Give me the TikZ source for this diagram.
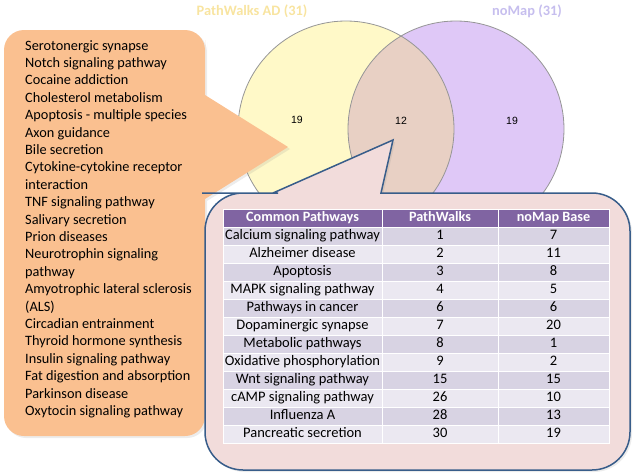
\documentclass[tikz,border=0pt]{standalone}
\usepackage{fontspec}
\setmainfont{Carlito}
\newfontfamily\vennfont{Liberation Sans}
\usepackage{tikz}
\usetikzlibrary{positioning, shadows}
\definecolor{peach}{RGB}{250,192,144}
\definecolor{blush}{RGB}{242,220,219}
\definecolor{calloutblue}{RGB}{56,93,138}
\definecolor{headpurple}{RGB}{128,100,162}
\definecolor{rowdark}{RGB}{216,211,227}
\definecolor{rowlight}{RGB}{235,232,241}
\definecolor{vennyellow}{RGB}{255,249,200}
\definecolor{vennpurple}{RGB}{223,200,247}
\definecolor{vennmix}{RGB}{232,208,196}
\definecolor{venngray}{RGB}{150,150,150}
\definecolor{titleyellow}{RGB}{248,228,160}
\definecolor{titlepurple}{RGB}{198,190,238}

\begin{document}
\begin{tikzpicture}[
    x=1pt, y=-1pt,
    venntitle/.style={font=\fontsize{14.4}{16}\selectfont\bfseries},
    vennnum/.style={font=\vennfont\fontsize{10.5}{12}\selectfont},
    listtext/.style={align=left, inner sep=0pt, font=\fontsize{14.3}{17.4}\selectfont},
    tabcell/.style={inner sep=0pt, outer sep=0pt, draw=white, line width=1pt, minimum height=18pt, text height=9.5pt, text depth=2.5pt, font=\fontsize{14.5}{16}\selectfont},
    colA/.style={tabcell, minimum width=159pt},
    colB/.style={tabcell, minimum width=116pt},
    colC/.style={tabcell, minimum width=111pt},
    headrow/.style={fill=headpurple, text=white, font=\fontsize{14.2}{16}\selectfont\bfseries},
    darkrow/.style={fill=rowdark},
    lightrow/.style={fill=rowlight},
    bubble/.style={drop shadow={shadow xshift=2pt, shadow yshift=-2pt, opacity=0.15}}
]
\useasboundingbox (0,0) rectangle (633,474);

% venn circles
\fill[vennyellow] (346,129) circle (108pt);
\fill[vennpurple] (456,129) circle (108pt);
\begin{scope}
  \clip (346,129) circle (108pt);
  \fill[vennmix] (456,129) circle (108pt);
\end{scope}
\draw[venngray, line width=0.8pt] (346,129) circle (108pt);
\draw[venngray, line width=0.8pt] (456,129) circle (108pt);

\node[venntitle, text=titleyellow] (titleAD) at (252,11) {PathWalks AD (31)};
\node[venntitle, text=titlepurple] (titleNoMap) at (527,11) {noMap (31)};
\node[vennnum] (onlyAD) at (297,120) {19};
\node[vennnum] (common) at (401,121) {12};
\node[vennnum] (onlyNoMap) at (512,121) {19};

% callouts
\fill[peach, bubble] (4,230) [rounded corners=20pt] -- (4,30) -- (205,30) -- (205,60) [sharp corners] -- (205,95) -- (288,147) -- (205,199) -- (205,230) [rounded corners=20pt] -- (205,436) -- (4,436) -- cycle;
\filldraw[fill=blush, draw=calloutblue, line width=1.5pt, bubble] (205,330) [rounded corners=38pt] -- (205,193) -- (240,193) [sharp corners] -- (273,193) -- (393,140) -- (381,193) -- (420,193) [rounded corners=38pt] -- (630,193) -- (630,470) -- (205,470) -- cycle;

\node[listtext, anchor=north west] (others) at (25,40) {Serotonergic synapse\\ Notch signaling pathway\\ Cocaine addiction\\ Cholesterol metabolism\\ Apoptosis - multiple species\\ Axon guidance\\ Bile secretion\\ Cytokine-cytokine receptor\\ interaction\\ TNF signaling pathway\\ Salivary secretion\\ Prion diseases\\ Neurotrophin signaling\\ pathway\\ Amyotrophic lateral sclerosis\\ (ALS)\\ Circadian entrainment\\ Thyroid hormone synthesis\\ Insulin signaling pathway\\ Fat digestion and absorption\\ Parkinson disease\\ Oxytocin signaling pathway};

% table of common pathways
\node[colA, headrow, anchor=north west] (hA) at (223,209) {Common Pathways};
\node[colB, headrow, right=0pt of hA] (hB) {PathWalks};
\node[colC, headrow, right=0pt of hB] (hC) {noMap Base};

\node[colA, darkrow, below=0pt of hA] (r1A) {Calcium signaling pathway};
\node[colB, darkrow, right=0pt of r1A] (r1B) {1};
\node[colC, darkrow, right=0pt of r1B] (r1C) {7};

\node[colA, lightrow, below=0pt of r1A] (r2A) {Alzheimer disease};
\node[colB, lightrow, right=0pt of r2A] (r2B) {2};
\node[colC, lightrow, right=0pt of r2B] (r2C) {11};

\node[colA, darkrow, below=0pt of r2A] (r3A) {Apoptosis};
\node[colB, darkrow, right=0pt of r3A] (r3B) {3};
\node[colC, darkrow, right=0pt of r3B] (r3C) {8};

\node[colA, lightrow, below=0pt of r3A] (r4A) {MAPK signaling pathway};
\node[colB, lightrow, right=0pt of r4A] (r4B) {4};
\node[colC, lightrow, right=0pt of r4B] (r4C) {5};

\node[colA, darkrow, below=0pt of r4A] (r5A) {Pathways in cancer};
\node[colB, darkrow, right=0pt of r5A] (r5B) {6};
\node[colC, darkrow, right=0pt of r5B] (r5C) {6};

\node[colA, lightrow, below=0pt of r5A] (r6A) {Dopaminergic synapse};
\node[colB, lightrow, right=0pt of r6A] (r6B) {7};
\node[colC, lightrow, right=0pt of r6B] (r6C) {20};

\node[colA, darkrow, below=0pt of r6A] (r7A) {Metabolic pathways};
\node[colB, darkrow, right=0pt of r7A] (r7B) {8};
\node[colC, darkrow, right=0pt of r7B] (r7C) {1};

\node[colA, lightrow, below=0pt of r7A] (r8A) {Oxidative phosphorylation};
\node[colB, lightrow, right=0pt of r8A] (r8B) {9};
\node[colC, lightrow, right=0pt of r8B] (r8C) {2};

\node[colA, darkrow, below=0pt of r8A] (r9A) {Wnt signaling pathway};
\node[colB, darkrow, right=0pt of r9A] (r9B) {15};
\node[colC, darkrow, right=0pt of r9B] (r9C) {15};

\node[colA, lightrow, below=0pt of r9A] (r10A) {cAMP signaling pathway};
\node[colB, lightrow, right=0pt of r10A] (r10B) {26};
\node[colC, lightrow, right=0pt of r10B] (r10C) {10};

\node[colA, darkrow, below=0pt of r10A] (r11A) {Influenza A};
\node[colB, darkrow, right=0pt of r11A] (r11B) {28};
\node[colC, darkrow, right=0pt of r11B] (r11C) {13};

\node[colA, lightrow, below=0pt of r11A] (r12A) {Pancreatic secretion};
\node[colB, lightrow, right=0pt of r12A] (r12B) {30};
\node[colC, lightrow, right=0pt of r12B] (r12C) {19};
\end{tikzpicture}
\end{document}
